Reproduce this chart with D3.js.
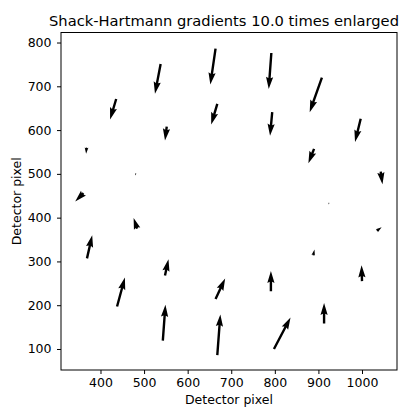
<!DOCTYPE html>
<html>
<head>
<meta charset="utf-8">
<script src="https://cdn.jsdelivr.net/npm/d3@7"></script>
<style>
  body { margin: 0; background: #fff; }
  text { font-family: "DejaVu Sans", sans-serif; }
</style>
</head>
<body>
<div id="chart"></div>
<script>
// lenslet spot positions (detector pixel)
const spotX = [538, 664, 792, 908, 436, 668, 794, 997, 552, 368, 890, 481, 1043, 924,
               361, 484, 1034, 369, 888, 548, 1000, 791, 438, 664, 543, 668, 798, 913];
const spotY = [751, 786, 776, 720, 671, 660, 641, 626, 608, 560, 557, 501, 505, 434,
               456, 375, 370, 307, 314, 268, 255, 232, 197, 214, 119, 86, 100, 158];
// measured gradients
const gradX = [-1.3, -1.2, -0.6, -2.8, -1.4, -1.4, -0.5, -1.3, -0.4, -0.1, -1.3, -0.1, 0.4, 0.0,
               -1.9, -0.8, 1.1, 1.2, 0.3, 0.8, -0.1, 0.0, 1.8, 2.2, 0.6, 0.7, 3.8, 0.0];
const gradY = [-6.8, -8.2, -8.2, -7.9, -4.7, -4.7, -5.4, -5.3, -3.2, -1.4, -3.3, -0.5, -2.9, -0.4,
               -1.9, 2.4, 0.8, 5.3, 1.3, 3.7, 3.6, 4.6, 6.6, 4.7, 8.2, 9.3, 7.2, 4.7];
const enlarge = 10.0;
const xTicks = [400, 500, 600, 700, 800, 900, 1000];
const yTicks = [100, 200, 300, 400, 500, 600, 700, 800];

const W = 411, H = 410;
const margin = {top: 32.5, right: 14, bottom: 40, left: 61};
const width = W - margin.left - margin.right;
const height = H - margin.top - margin.bottom;

const svg = d3.select('#chart').append('svg')
  .attr('width', W)
  .attr('height', H);

const plot = svg.append('g')
  .attr('transform', 'translate(' + margin.left + ',' + margin.top + ')');

const xScale = d3.scaleLinear().domain([309.4, 1080.3]).range([0, width]);
const yScale = d3.scaleLinear().domain([52, 822.9]).range([height, 0]);

// quiver arrows, matplotlib-like geometry (units of shaft width)
const shaft = 2.4;
const headW = 3, headL = 5, headAx = 4.5, minSh = 1 * headL;

function arrowPoints(i) {
  const x0 = xScale(spotX[i]), y0 = yScale(spotY[i]);
  const x1 = xScale(spotX[i] + enlarge * gradX[i]);
  const y1 = yScale(spotY[i] + enlarge * gradY[i]);
  const dx = x1 - x0, dy = y1 - y0;
  const len = Math.sqrt(dx * dx + dy * dy) / shaft;
  const ang = Math.atan2(dy, dx);
  let xs, ys;
  if (len < minSh) {
    const s = len / minSh;
    xs = [0, minSh - headAx, minSh - headL, minSh, minSh - headL, minSh - headAx, 0].map(v => v * s);
    ys = [0.5, 0.5, headW / 2, 0, -headW / 2, -0.5, -0.5].map(v => v * s);
  } else {
    xs = [0, len - headAx, len - headL, len, len - headL, len - headAx, 0];
    ys = [0.5, 0.5, headW / 2, 0, -headW / 2, -0.5, -0.5];
  }
  const c = Math.cos(ang), sn = Math.sin(ang);
  return xs.map((v, k) => [
    x0 + shaft * (v * c - ys[k] * sn),
    y0 + shaft * (v * sn + ys[k] * c)
  ]);
}

const line = d3.line();
plot.append('g')
  .attr('class', 'arrows')
  .selectAll('path').data(d3.range(spotX.length)).enter()
  .append('path')
  .attr('d', i => line(arrowPoints(i)) + 'Z')
  .attr('fill', '#000')
  .attr('stroke', 'none');

// axes
const xAxis = d3.axisBottom(xScale).tickValues(xTicks).tickFormat(d3.format('d'))
  .tickSize(4).tickPadding(4.5).tickSizeOuter(0);
const yAxis = d3.axisLeft(yScale).tickValues(yTicks).tickFormat(d3.format('d'))
  .tickSize(4).tickPadding(5.5).tickSizeOuter(0);

const gx = plot.append('g')
  .attr('transform', 'translate(0,' + height + ')')
  .call(xAxis);
const gy = plot.append('g').call(yAxis);

[gx, gy].forEach(g => {
  g.select('.domain').remove();
  g.selectAll('line').attr('stroke', '#000').attr('stroke-width', 1);
  g.selectAll('text').attr('fill', '#000').style('font-size', '12.5px')
    .style('font-family', '"DejaVu Sans", sans-serif');
});

plot.append('rect')
  .attr('x', 0).attr('y', 0)
  .attr('width', width).attr('height', height)
  .attr('fill', 'none')
  .attr('stroke', '#000')
  .attr('stroke-width', 1);

// labels
svg.append('text')
  .attr('x', 224).attr('y', 26)
  .attr('text-anchor', 'middle')
  .style('font-size', '14.7px')
  .text('Shack-Hartmann gradients 10.0 times enlarged');

svg.append('text')
  .attr('x', margin.left + width / 2).attr('y', 404)
  .attr('text-anchor', 'middle')
  .style('font-size', '12.5px')
  .text('Detector pixel');

svg.append('text')
  .attr('transform', 'translate(20.5,' + (margin.top + height / 2) + ') rotate(-90)')
  .attr('text-anchor', 'middle')
  .style('font-size', '12.5px')
  .text('Detector pixel');
</script>
</body>
</html>
